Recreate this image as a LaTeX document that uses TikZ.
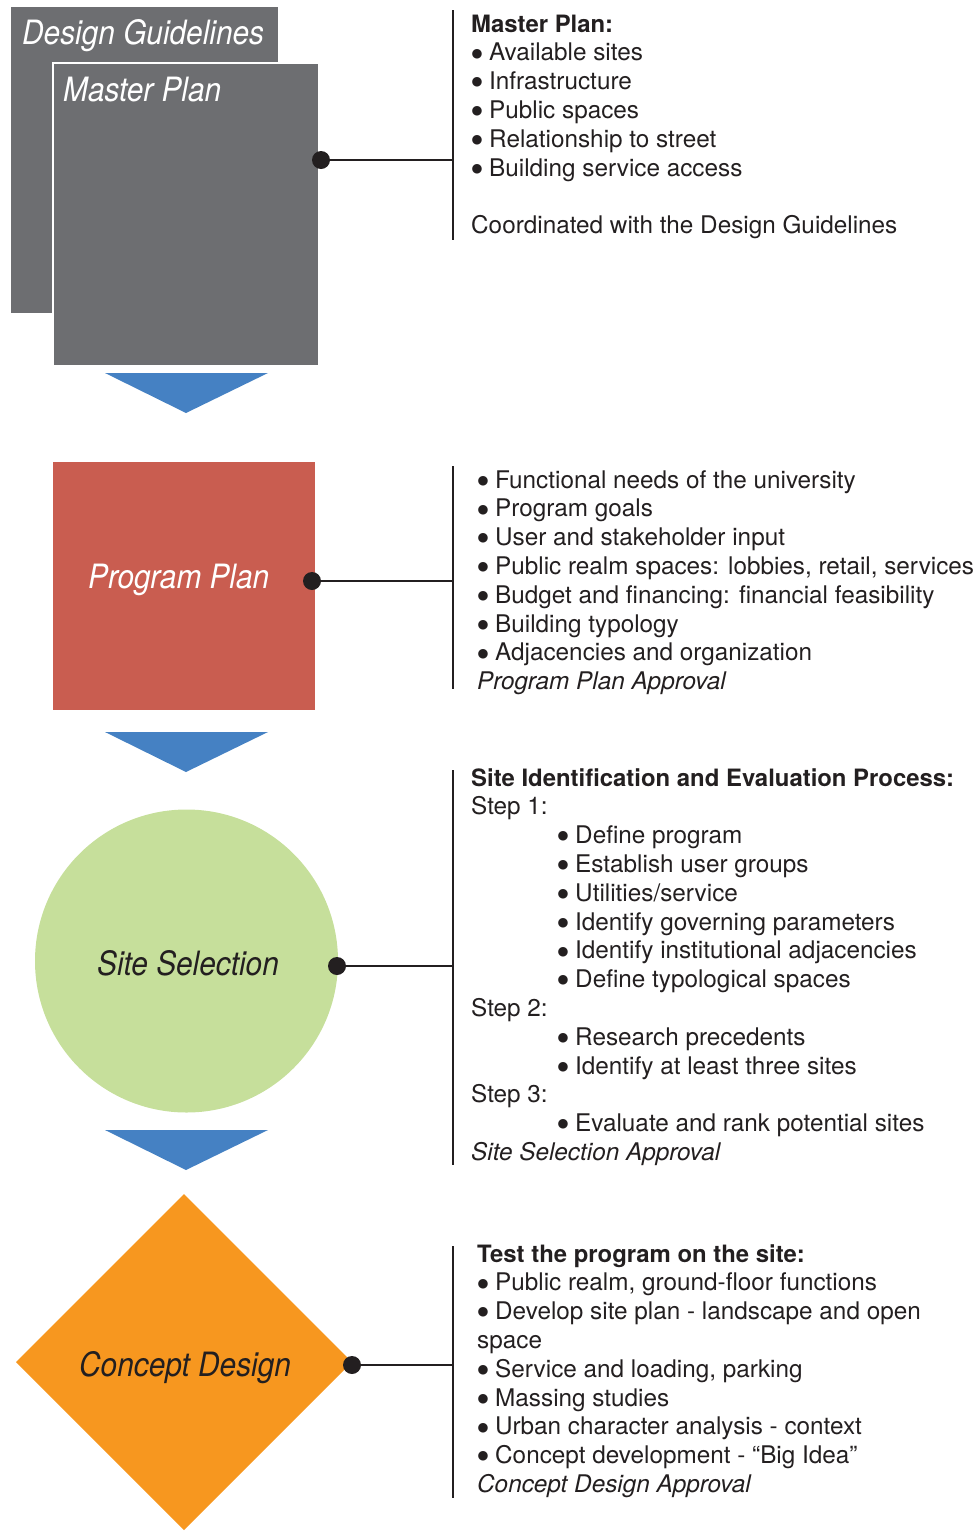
\documentclass[tikz,border=0pt]{standalone}
\usepackage{fontspec}
\setmainfont{TeX Gyre Heros}
\newfontfamily\labelfont[FakeStretch=0.89]{TeX Gyre Heros}
\newfontfamily\dejavu{DejaVu Sans}
\usetikzlibrary{shapes.geometric}
\definecolor{mpgray}{HTML}{6D6E71}
\definecolor{pred}{HTML}{C95D50}
\definecolor{sgreen}{HTML}{C6DF9B}
\definecolor{corange}{HTML}{F7971F}
\definecolor{ablue}{HTML}{4581C3}
\definecolor{dark}{HTML}{231F20}
\newcommand\bul{\makebox[18pt][l]{\hspace{0.3pt}\raisebox{3.8pt}{\dejavu\fontsize{12.5}{12.5}\selectfont ●}}}
\begin{document}
\begin{tikzpicture}[x=1pt,y=-1pt,
  shapebox/.style={inner sep=0pt, outer sep=0pt, draw=none},
  lbl/.style={anchor=base west, inner sep=0pt, font=\labelfont\itshape\fontsize{33.5}{38}\selectfont},
  txt/.style={anchor=base west, inner sep=0pt, font=\fontsize{24.3}{28}\selectfont, text=dark},
  ttl/.style={anchor=base west, inner sep=0pt, font=\bfseries\fontsize{23.9}{28}\selectfont, text=dark},
  dotnode/.style={circle, fill=dark, minimum size=18pt, inner sep=0pt, outer sep=0pt},
  bar/.style={draw=dark, line width=2.2pt},
  conn/.style={draw=dark, line width=2pt},
  tri/.style={fill=ablue}]
\useasboundingbox (0,0) rectangle (979,1532);

% ---------- Master Plan ----------
\node[shapebox, fill=mpgray, minimum width=267pt, minimum height=306pt, anchor=north west] (dg) at (11,7) {};
\node[shapebox, fill=mpgray, draw=white, line width=1.5pt, minimum width=266pt, minimum height=303pt, anchor=north west] (mp) at (53,63) {};
\node[lbl, text=white] (dgl) at (22,44) {Design Guidelines};
\node[lbl, text=white] (mpl) at (63,101) {Master Plan};
\node[dotnode] (d1) at (321,160) {};
\coordinate (b1t) at (453,10);
\coordinate (b1b) at (453,240);
\coordinate (b1m) at (453,160);
\draw[bar] (b1t) -- (b1b);
\draw[conn] (d1.center) -- (b1m);

\node[ttl] (t1a) at (471,32) {Master Plan:};
\node[txt] (t1b) at (471,60.8) {\bul Available sites};
\node[txt] (t1c) at (471,89.6) {\bul Infrastructure};
\node[txt] (t1d) at (471,118.4) {\bul Public spaces};
\node[txt] (t1e) at (471,147.2) {\bul Relationship to street};
\node[txt] (t1f) at (471,176) {\bul Building service access};
\node[txt] (t1g) at (471,233.6) {Coordinated with the Design Guidelines};

\fill[tri] (105,373) -- (268,373) -- (186,413) -- cycle;

% ---------- Program Plan ----------
\node[shapebox, fill=pred, minimum width=262pt, minimum height=248pt, anchor=north west] (pp) at (53,462) {};
\node[lbl, text=white] (ppl) at (88,588) {Program Plan};
\node[dotnode] (d2) at (312,581) {};
\coordinate (b2t) at (453,466);
\coordinate (b2b) at (453,689);
\coordinate (b2m) at (453,581);
\draw[bar] (b2t) -- (b2b);
\draw[conn] (d2.center) -- (b2m);

\node[txt] (t2a) at (477,488) {\bul Functional needs of the university};
\node[txt] (t2b) at (477,516.8) {\bul Program goals};
\node[txt] (t2c) at (477,545.6) {\bul User and stakeholder input};
\node[txt] (t2d) at (477,574.4) {\bul Public realm spaces: lobbies, retail, services};
\node[txt] (t2e) at (477,603.2) {\bul Budget and financing: financial feasibility};
\node[txt] (t2f) at (477,632) {\bul Building typology};
\node[txt] (t2g) at (477,660.8) {\bul Adjacencies and organization};
\node[txt] (t2h) at (477,689.6) {\itshape Program Plan Approval};

\fill[tri] (105,732) -- (268,732) -- (186,772) -- cycle;

% ---------- Site Selection ----------
\node[shapebox, circle, fill=sgreen, minimum size=303pt] (ss) at (186.5,961) {};
\node[lbl, text=dark] (ssl) at (97,975) {Site Selection};
\node[dotnode] (d3) at (337,966) {};
\coordinate (b3t) at (453,770);
\coordinate (b3b) at (453,1165);
\coordinate (b3m) at (453,966);
\draw[bar] (b3t) -- (b3b);
\draw[conn] (d3.center) -- (b3m);

\node[ttl] (t3a) at (471,786) {Site Identification and Evaluation Process:};
\node[txt] (t3b) at (471,814.8) {Step 1:};
\node[txt] (t3c) at (557,843.6) {\bul Define program};
\node[txt] (t3d) at (557,872.4) {\bul Establish user groups};
\node[txt] (t3e) at (557,901.2) {\bul Utilities/service};
\node[txt] (t3f) at (557,930) {\bul Identify governing parameters};
\node[txt] (t3g) at (557,958.8) {\bul Identify institutional adjacencies};
\node[txt] (t3h) at (557,987.6) {\bul Define typological spaces};
\node[txt] (t3i) at (471,1016.4) {Step 2:};
\node[txt] (t3j) at (557,1045.2) {\bul Research precedents};
\node[txt] (t3k) at (557,1074) {\bul Identify at least three sites};
\node[txt] (t3l) at (471,1102.8) {Step 3:};
\node[txt] (t3m) at (557,1131.6) {\bul Evaluate and rank potential sites};
\node[txt] (t3n) at (471,1160.4) {\itshape Site Selection Approval};

\fill[tri] (105,1130) -- (268,1130) -- (186,1170) -- cycle;

% ---------- Concept Design ----------
\node[shapebox, diamond, aspect=1, fill=corange, minimum width=336pt, minimum height=336pt] (cd) at (184,1362) {};
\node[lbl, text=dark] (cdl) at (79,1376) {Concept Design};
\node[dotnode] (d4) at (352,1365) {};
\coordinate (b4t) at (453,1246);
\coordinate (b4b) at (453,1498);
\coordinate (b4m) at (453,1365);
\draw[bar] (b4t) -- (b4b);
\draw[conn] (d4.center) -- (b4m);

\node[ttl] (t4a) at (477,1262) {Test the program on the site:};
\node[txt] (t4b) at (477,1290.8) {\bul Public realm, ground-floor functions};
\node[txt] (t4c) at (477,1319.6) {\bul Develop site plan - landscape and open};
\node[txt] (t4d) at (477,1348.4) {space};
\node[txt] (t4e) at (477,1377.2) {\bul Service and loading, parking};
\node[txt] (t4f) at (477,1406) {\bul Massing studies};
\node[txt] (t4g) at (477,1434.8) {\bul Urban character analysis - context};
\node[txt] (t4h) at (477,1463.6) {\bul Concept development - “Big Idea”};
\node[txt] (t4i) at (477,1492.4) {\itshape Concept Design Approval};
\end{tikzpicture}
\end{document}
